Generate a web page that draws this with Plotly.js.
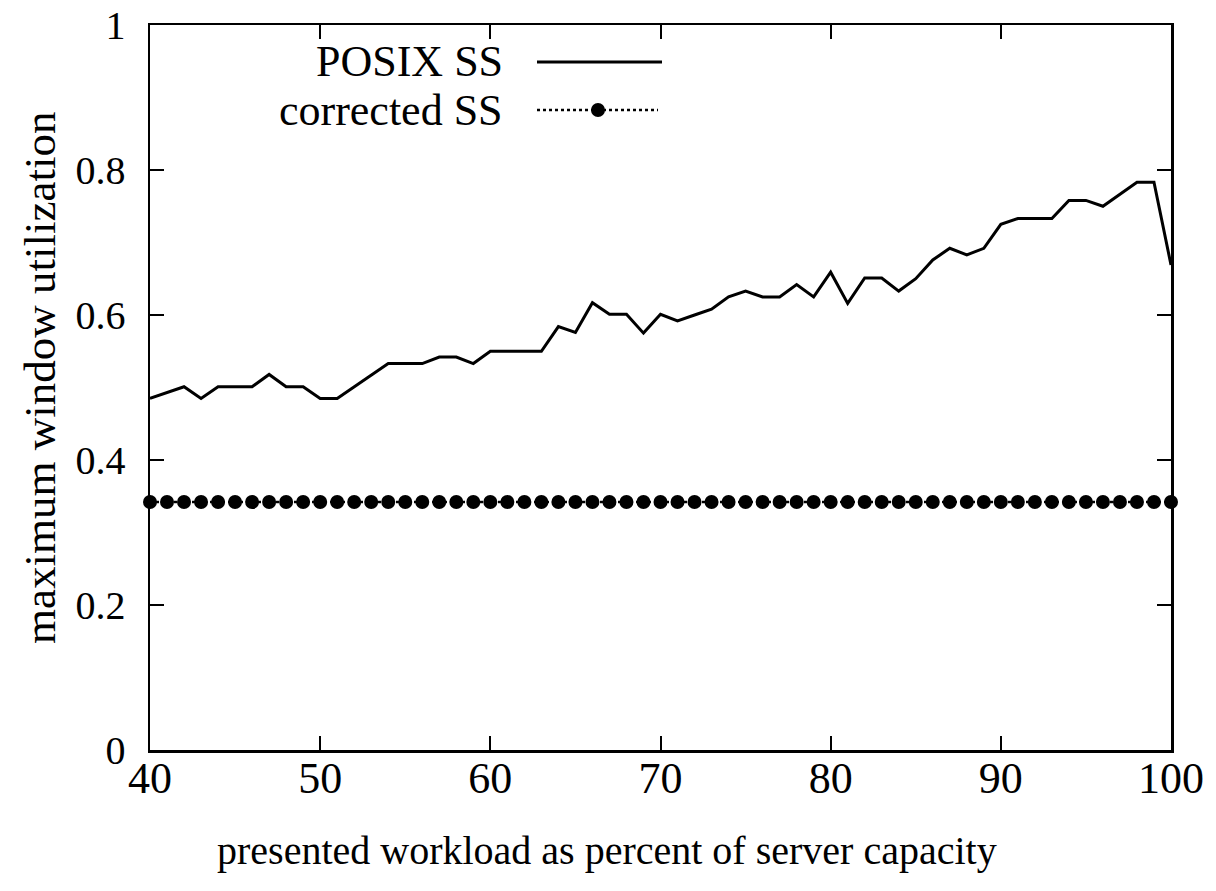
<!DOCTYPE html>
<html>
<head>
<meta charset="utf-8">
<script src="https://cdn.plot.ly/plotly-3.0.1.min.js"></script>
<style>html,body{margin:0;padding:0;background:#fff;}#chart{width:1216px;height:891px;}</style>
</head>
<body>
<div id="chart"></div>
<script>
const workload = [];
for (let w = 40; w <= 100; w++) workload.push(w);

const posixSS = [
  0.485, 0.493, 0.501, 0.485, 0.501, 0.501, 0.501, 0.518, 0.501, 0.501,
  0.485, 0.485, 0.501, 0.517, 0.533, 0.533, 0.533, 0.542, 0.542, 0.533,
  0.550, 0.550, 0.550, 0.550, 0.584, 0.576, 0.617, 0.601, 0.601, 0.575,
  0.601, 0.592, 0.600, 0.608, 0.625, 0.633, 0.625, 0.625, 0.642, 0.625,
  0.659, 0.616, 0.651, 0.651, 0.633, 0.650, 0.676, 0.692, 0.683, 0.692,
  0.725, 0.733, 0.733, 0.733, 0.758, 0.758, 0.750, 0.767, 0.783, 0.783,
  0.669
];

const correctedSS = workload.map(() => 0.342);

const xTicks = [40, 50, 60, 70, 80, 90, 100];
const yTicks = [0, 0.2, 0.4, 0.6, 0.8, 1];
const yTickLabels = ['0', '0.2', '0.4', '0.6', '0.8', '1'];

const seriesNames = ['POSIX SS', 'corrected SS'];
const xTitle = 'presented workload as percent of server capacity';
const yTitle = 'maximum window utilization';

const FONT = 'Liberation Serif, Times New Roman, serif';

const L = 150, R = 1171, T = 25, B = 750;
const px = v => (v - L) / (R - L);
const py = v => (B - v) / (B - T);

const traces = [
  {
    x: workload, y: posixSS, type: 'scatter', mode: 'lines', name: seriesNames[0],
    line: {color: '#000', width: 3}, showlegend: false
  },
  {
    x: workload, y: correctedSS, type: 'scatter', mode: 'lines+markers', name: seriesNames[1],
    line: {color: '#000', width: 2.5, dash: 'dot'},
    marker: {color: '#000', size: 14, symbol: 'circle'}, showlegend: false,
    cliponaxis: false
  }
];

const layout = {
  width: 1216, height: 891,
  margin: {l: L, r: 1216 - R, t: T, b: 891 - B},
  paper_bgcolor: '#fff', plot_bgcolor: '#fff',
  font: {family: FONT, size: 44, color: '#000'},
  showlegend: false,
  xaxis: {
    range: [40, 100], tickvals: xTicks, ticktext: xTicks.map(String),
    ticks: 'inside', ticklen: 14, tickwidth: 2, tickcolor: '#000',
    showline: true, linecolor: '#000', linewidth: 2.5, mirror: 'ticks',
    showgrid: false, zeroline: false, ticklabelstandoff: -12,
    tickfont: {family: FONT, size: 44}
  },
  yaxis: {
    range: [0, 1], tickvals: yTicks, ticktext: yTickLabels,
    ticks: 'inside', ticklen: 14, tickwidth: 2, tickcolor: '#000',
    showline: true, linecolor: '#000', linewidth: 2.5, mirror: 'ticks',
    showgrid: false, zeroline: false, ticklabelstandoff: 14,
    tickfont: {family: FONT, size: 40}
  },
  annotations: [
    {xref: 'paper', yref: 'paper', x: px(505), y: py(62), xanchor: 'right', yanchor: 'middle',
     text: seriesNames[0], showarrow: false, font: {family: FONT, size: 44}},
    {xref: 'paper', yref: 'paper', x: px(505), y: py(110), xanchor: 'right', yanchor: 'middle',
     text: seriesNames[1], showarrow: false, font: {family: FONT, size: 44}},
    {xref: 'paper', yref: 'paper', x: px(607), y: py(850), xanchor: 'center', yanchor: 'middle',
     text: xTitle, showarrow: false, font: {family: FONT, size: 40}},
    {xref: 'paper', yref: 'paper', x: px(40), y: py(378), xanchor: 'center', yanchor: 'middle',
     text: yTitle, textangle: -90, showarrow: false, font: {family: FONT, size: 45}}
  ],
  shapes: [
    {type: 'line', xref: 'paper', yref: 'paper', x0: px(537), x1: px(662),
     y0: py(62), y1: py(62), line: {color: '#000', width: 3}},
    {type: 'line', xref: 'paper', yref: 'paper', x0: px(537), x1: px(658),
     y0: py(110), y1: py(110), line: {color: '#000', width: 2.5, dash: 'dot'}},
    {type: 'circle', xref: 'paper', yref: 'paper',
     x0: px(598 - 7), x1: px(598 + 7),
     y0: py(110 + 7), y1: py(110 - 7),
     fillcolor: '#000', line: {color: '#000', width: 0}}
  ]
};

Plotly.newPlot('chart', traces, layout, {displayModeBar: false, staticPlot: true});
</script>
</body>
</html>
